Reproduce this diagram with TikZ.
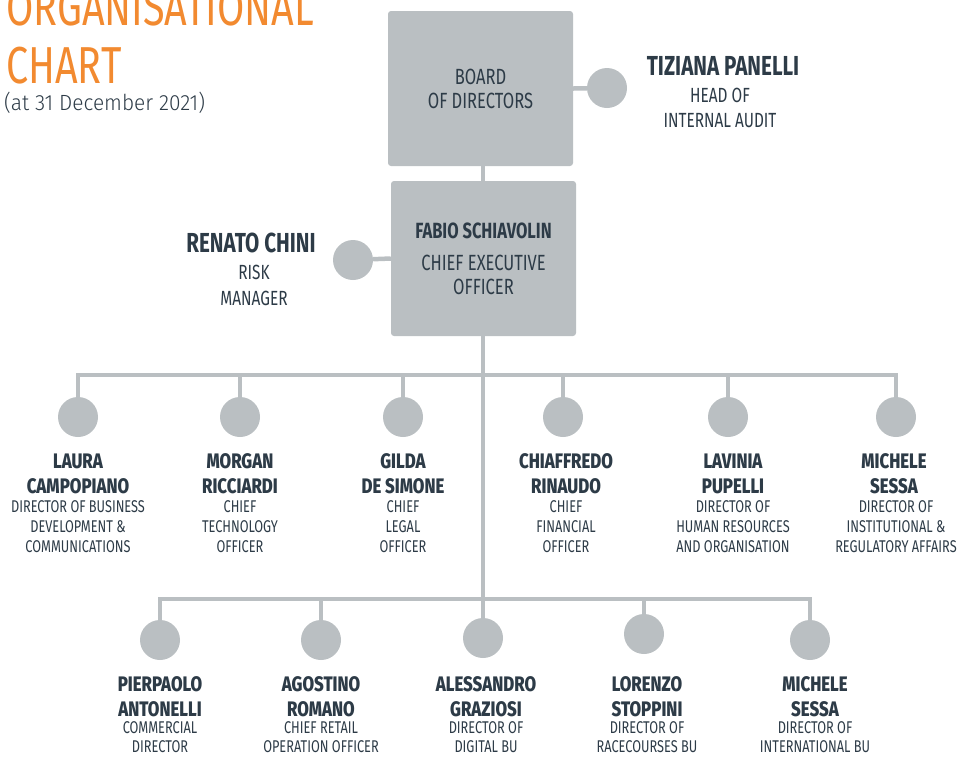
\documentclass[tikz,border=0pt]{standalone}
\usepackage{fontspec}
\usetikzlibrary{positioning}
\newfontfamily\headfont[FakeStretch=0.76]{Fira Sans}
\newfontfamily\datefont[FakeStretch=0.95]{Fira Sans Light}
\newfontfamily\rolefont[FakeStretch=0.75]{Fira Sans}
\newfontfamily\namefont[FakeStretch=0.8]{Fira Sans ExtraBold}
\definecolor{boxgray}{HTML}{BABFC2}
\definecolor{inkblue}{HTML}{2D3B47}
\definecolor{titleorange}{HTML}{F28A30}

\begin{document}
\begin{tikzpicture}[x=1pt, y=-1pt, text=inkblue,
    box/.style = {fill=boxgray, rounded corners=3pt, minimum width=185pt, minimum height=155pt, align=center, inner sep=0pt, font=\rolefont\fontsize{22}{24}\selectfont},
    dot/.style = {circle, fill=boxgray, minimum size=40pt, inner sep=0pt},
    pname/.style = {align=center, anchor=base, inner sep=0pt, font=\namefont\fontsize{21}{25}\selectfont},
    prole/.style = {align=center, anchor=base, inner sep=0pt, font=\rolefont\fontsize{17}{20}\selectfont},
    lowrole/.style = {prole, font=\rolefont\fontsize{17}{19}\selectfont},
    link/.style = {draw=boxgray, line width=4.5pt}]
\useasboundingbox (0,0) rectangle (963,756);

% title
\node[anchor=base west, inner sep=0pt, text=titleorange, font=\headfont\fontsize{52}{52}\selectfont] (title) at (6,25) {ORGANISATIONAL};
\node[anchor=base west, inner sep=0pt, text=titleorange, font=\headfont\fontsize{52}{52}\selectfont] (chart) at (6,83) {CHART};
\node[anchor=base west, inner sep=0pt, font=\datefont\fontsize{22}{22}\selectfont] (date) at (4,110) {(at 31 December 2021)};

% top of the chart
\node[box] (board) at (480.5,88.5) {BOARD\\OF DIRECTORS};
\node[box] (ceo) at (483.5,258.5) {\bfseries FABIO SCHIAVOLIN\\[8pt] CHIEF EXECUTIVE\\OFFICER};
\node[dot] (audit) at (607,88) {};
\node[dot] (risk) at (353,260) {};
\node[anchor=base, inner sep=0pt, font=\rolefont\bfseries\fontsize{27.5}{25}\selectfont] (panelli) at (723,75) {TIZIANA PANELLI};
\node[prole, font=\rolefont\fontsize{20.5}{25}\selectfont] (panellirole) at (720,127) {HEAD OF\\INTERNAL AUDIT};
\node[anchor=base, inner sep=0pt, font=\rolefont\bfseries\fontsize{27.5}{25}\selectfont] (chini) at (251,252) {RENATO CHINI};
\node[prole, font=\rolefont\fontsize{20.5}{26}\selectfont] (chinirole) at (254,305) {RISK\\MANAGER};

\coordinate (bar1) at (483,375);
\coordinate (bar2) at (483,599);

% first line
\node[dot] (d1) at (78,417) {};
\node[dot] (d2) at (240,417) {};
\node[dot] (d3) at (403,417) {};
\node[dot] (d4) at (563,417) {};
\node[dot] (d5) at (728,417) {};
\node[dot] (d6) at (896,417) {};
\node[pname] (campopiano) at (78,493) {LAURA\\CAMPOPIANO};
\node[prole] (campopianorole) at (78,552) {DIRECTOR OF BUSINESS\\DEVELOPMENT \&\\COMMUNICATIONS};
\node[pname] (ricciardi) at (240,493) {MORGAN\\RICCIARDI};
\node[prole] (ricciardirole) at (240,552) {CHIEF\\TECHNOLOGY\\OFFICER};
\node[pname] (desimone) at (403,493) {GILDA\\DE SIMONE};
\node[prole] (desimonerole) at (403,552) {CHIEF\\LEGAL\\OFFICER};
\node[pname] (rinaudo) at (566,493) {CHIAFFREDO\\RINAUDO};
\node[prole] (rinaudorole) at (566,552) {CHIEF\\FINANCIAL\\OFFICER};
\node[pname] (pupelli) at (733,493) {LAVINIA\\PUPELLI};
\node[prole] (pupellirole) at (733,552) {DIRECTOR OF\\HUMAN RESOURCES\\AND ORGANISATION};
\node[pname] (sessa) at (894,493) {MICHELE\\SESSA};
\node[prole] (sessarole) at (896,552) {DIRECTOR OF\\INSTITUTIONAL \&\\REGULATORY AFFAIRS};

% second line
\node[dot] (e1) at (160,640) {};
\node[dot] (e2) at (321,640) {};
\node[dot] (e3) at (483,638) {};
\node[dot] (e4) at (644,634) {};
\node[dot] (e5) at (810,640) {};
\node[pname] (antonelli) at (160,716) {PIERPAOLO\\ANTONELLI};
\node[lowrole] (antonellirole) at (160,752) {COMMERCIAL\\DIRECTOR};
\node[pname] (romano) at (321,716) {AGOSTINO\\ROMANO};
\node[lowrole] (romanorole) at (321,752) {CHIEF RETAIL\\OPERATION OFFICER};
\node[pname] (graziosi) at (486,716) {ALESSANDRO\\GRAZIOSI};
\node[lowrole] (graziosirole) at (486,752) {DIRECTOR OF\\DIGITAL BU};
\node[pname] (stoppini) at (647,716) {LORENZO\\STOPPINI};
\node[lowrole] (stoppinirole) at (647,752) {DIRECTOR OF\\RACECOURSES BU};
\node[pname] (sessaint) at (815,716) {MICHELE\\SESSA};
\node[lowrole] (sessaintrole) at (815,752) {DIRECTOR OF\\INTERNATIONAL BU};

% connectors
\draw[link] (board.east) -- (audit);
\draw[link] (ceo.west) -- (risk);
\draw[link] (board.south -| bar1) -- (ceo.north -| bar1);
\draw[link] (ceo.south -| bar1) -- (bar2);
\draw[link] (d1) -- (d1 |- bar1) -- (d6 |- bar1) -- (d6);
\draw[link] (d2) -- (d2 |- bar1);
\draw[link] (d3) -- (d3 |- bar1);
\draw[link] (d4) -- (d4 |- bar1);
\draw[link] (d5) -- (d5 |- bar1);
\draw[link] (e1) -- (e1 |- bar2) -- (e5 |- bar2) -- (e5);
\draw[link] (e2) -- (e2 |- bar2);
\draw[link] (e3) -- (bar2);
\draw[link] (e4) -- (e4 |- bar2);
\end{tikzpicture}
\end{document}
